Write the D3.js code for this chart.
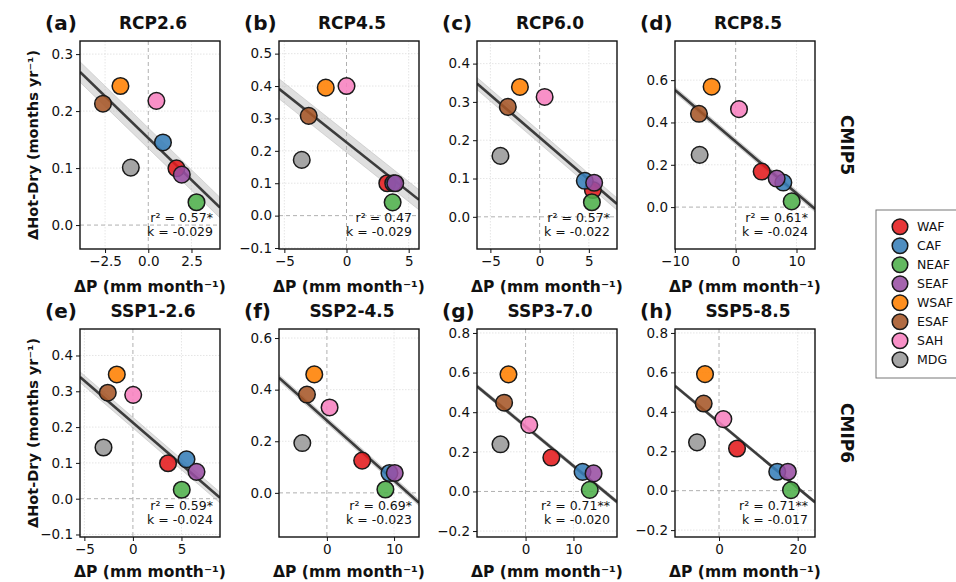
<!DOCTYPE html>
<html>
<head>
<meta charset="utf-8">
<script src="https://cdn.jsdelivr.net/npm/d3@7"></script>
<style>
body { margin: 0; background: #fff; }
svg text { font-family: "DejaVu Sans", sans-serif; fill: #111; }
</style>
</head>
<body>
<div id="chart"></div>
<script>
// regions and colours (legend order = draw order)
var regions = ["WAF", "CAF", "NEAF", "SEAF", "WSAF", "ESAF", "SAH", "MDG"];
var colors = ["#e41a1c", "#377eb8", "#4daf4a", "#984ea3", "#ff7f00", "#a65628", "#f781bf", "#999999"];

var panelTags = ["(a)", "(b)", "(c)", "(d)", "(e)", "(f)", "(g)", "(h)"];
var scenarios = ["RCP2.6", "RCP4.5", "RCP6.0", "RCP8.5", "SSP1-2.6", "SSP2-4.5", "SSP3-7.0", "SSP5-8.5"];
var rowNames = ["CMIP5", "CMIP6"];

// ΔP per region, one array per panel
var dP = [
    [1.63, 0.85, 2.79, 1.94, -1.61, -2.62, 0.47, -1.01],
    [3.28, 3.76, 3.71, 3.92, -1.67, -3.04, 0.0, -3.60],
    [5.41, 4.59, 5.31, 5.54, -2.0, -3.23, 0.51, -3.98],
    [4.27, 7.84, 9.21, 6.74, -3.95, -6.03, 0.55, -5.92],
    [3.62, 5.52, 5.03, 6.55, -1.66, -2.59, 0.03, -3.03],
    [5.25, 9.31, 8.71, 10.1, -1.88, -2.97, 0.40, -3.66],
    [5.38, 11.9, 13.4, 14.2, -3.57, -4.48, 0.77, -5.24],
    [4.58, 14.8, 18.3, 17.5, -3.56, -3.9, 1.10, -5.59]
];
// ΔHot-Dry per region, one array per panel
var dHD = [
    [0.0996, 0.145, 0.040, 0.0885, 0.244, 0.213, 0.218, 0.1008],
    [0.100, 0.100, 0.041, 0.100, 0.395, 0.308, 0.400, 0.172],
    [0.070, 0.094, 0.038, 0.089, 0.339, 0.287, 0.313, 0.159],
    [0.168, 0.116, 0.027, 0.135, 0.569, 0.441, 0.463, 0.247],
    [0.099, 0.110, 0.025, 0.075, 0.347, 0.296, 0.290, 0.143],
    [0.125, 0.077, 0.013, 0.077, 0.459, 0.381, 0.331, 0.193],
    [0.171, 0.099, 0.008, 0.091, 0.591, 0.448, 0.336, 0.238],
    [0.214, 0.096, 0.003, 0.096, 0.591, 0.442, 0.363, 0.245]
];

var r2Labels = ["0.57*", "0.47", "0.57*", "0.61*", "0.59*", "0.69*", "0.71**", "0.71**"];
var kLabels = ["-0.029", "-0.029", "-0.022", "-0.024", "-0.024", "-0.023", "-0.020", "-0.017"];
// half width of the grey uncertainty band (months/yr)
var bandHalf = [0.018, 0.031, 0.016, 0.014, 0.015, 0.012, 0.01, 0.008];

var xDomains = [[-3.95, 4.15], [-5.43, 5.83], [-6.36, 7.86], [-9.97, 13.04],
                [-5.45, 8.97], [-7.13, 13.71], [-10.14, 19.09], [-11.19, 24.4]];
var yDomains = [[-0.042, 0.323], [-0.103, 0.539], [-0.084, 0.459], [-0.198, 0.785],
                [-0.107, 0.474], [-0.171, 0.635], [-0.230, 0.820], [-0.235, 0.820]];
var xTicks = [[-2.5, 0, 2.5], [-5, 0, 5], [-5, 0, 5], [-10, 0, 10],
              [-5, 0, 5], [0, 10], [0, 10], [0, 20]];
var yTicks = [[0, 0.1, 0.2, 0.3], [-0.1, 0, 0.1, 0.2, 0.3, 0.4, 0.5], [0, 0.1, 0.2, 0.3, 0.4], [0, 0.2, 0.4, 0.6],
              [-0.1, 0, 0.1, 0.2, 0.3, 0.4], [0, 0.2, 0.4, 0.6], [-0.2, 0, 0.2, 0.4, 0.6, 0.8], [-0.2, 0, 0.2, 0.4, 0.6, 0.8]];
var xTickFormats = [".1f", "d", "d", "d", "d", "d", "d", "d"];

var width = 956;
var height = 582;
var colLeft = [80, 279, 477, 675];
var rowTop = [41, 329];
var axW = 140;
var axH = 208;
var pointR = 8.3;

var svg = d3.select("#chart")
    .append("svg")
    .attr("width", width)
    .attr("height", height);

var defs = svg.append("defs");

scenarios.forEach(function(name, i) {
    var col = i % 4;
    var row = Math.floor(i / 4);
    var left = colLeft[col];
    var top = rowTop[row];

    var x = d3.scaleLinear().domain(xDomains[i]).range([left, left + axW]);
    var y = d3.scaleLinear().domain(yDomains[i]).range([top + axH, top]);

    var g = svg.append("g");

    defs.append("clipPath")
        .attr("id", "clip" + i)
        .append("rect")
        .attr("x", left)
        .attr("y", top)
        .attr("width", axW)
        .attr("height", axH);

    var inner = g.append("g").attr("clip-path", "url(#clip" + i + ")");

    // light dotted grid
    inner.selectAll(".gx")
        .data(xTicks[i].filter(d => d !== 0))
        .enter().append("line")
        .attr("x1", d => x(d)).attr("x2", d => x(d))
        .attr("y1", top).attr("y2", top + axH)
        .attr("stroke", "#dedede")
        .attr("stroke-width", 0.8)
        .attr("stroke-dasharray", "1.5,1.5");
    inner.selectAll(".gy")
        .data(yTicks[i].filter(d => d !== 0))
        .enter().append("line")
        .attr("x1", left).attr("x2", left + axW)
        .attr("y1", d => y(d)).attr("y2", d => y(d))
        .attr("stroke", "#dedede")
        .attr("stroke-width", 0.8)
        .attr("stroke-dasharray", "1.5,1.5");

    // zero lines
    inner.append("line")
        .attr("x1", x(0)).attr("x2", x(0))
        .attr("y1", top).attr("y2", top + axH)
        .attr("stroke", "#b0b0b0")
        .attr("stroke-width", 1)
        .attr("stroke-dasharray", "4,3");
    inner.append("line")
        .attr("x1", left).attr("x2", left + axW)
        .attr("y1", y(0)).attr("y2", y(0))
        .attr("stroke", "#b0b0b0")
        .attr("stroke-width", 1)
        .attr("stroke-dasharray", "4,3");

    // least squares fit
    var xs = dP[i];
    var ys = dHD[i];
    var xm = d3.mean(xs);
    var ym = d3.mean(ys);
    var sxx = d3.sum(xs, v => (v - xm) * (v - xm));
    var sxy = d3.sum(xs, (v, j) => (v - xm) * (ys[j] - ym));
    var slope = sxy / sxx;
    var icpt = ym - slope * xm;

    var ends = xDomains[i].map(v => ({x: v, c: icpt + slope * v}));

    inner.append("path")
        .datum(ends)
        .attr("d", d3.area().x(d => x(d.x)).y0(d => y(d.c - bandHalf[i])).y1(d => y(d.c + bandHalf[i])))
        .attr("fill", "#b8b8b8")
        .attr("fill-opacity", 0.45)
        .attr("stroke", "#9a9a9a")
        .attr("stroke-opacity", 0.4)
        .attr("stroke-width", 0.8);

    inner.append("path")
        .datum(ends)
        .attr("d", d3.line().x(d => x(d.x)).y(d => y(d.c)))
        .attr("stroke", "#333")
        .attr("stroke-opacity", 0.95)
        .attr("stroke-width", 2.6)
        .attr("fill", "none");

    // region points
    g.selectAll(".pt")
        .data(regions)
        .enter().append("circle")
        .attr("cx", (d, j) => x(xs[j]))
        .attr("cy", (d, j) => y(ys[j]))
        .attr("r", pointR)
        .attr("fill", (d, j) => colors[j])
        .attr("fill-opacity", 0.88)
        .attr("stroke", "#1a1a1a")
        .attr("stroke-width", 1.5);

    // stats text
    g.append("text")
        .attr("x", left + axW - 7)
        .attr("y", top + axH - 27)
        .attr("text-anchor", "end")
        .style("font-size", "12.5px")
        .text("r\u00b2 = " + r2Labels[i]);
    g.append("text")
        .attr("x", left + axW - 7)
        .attr("y", top + axH - 13)
        .attr("text-anchor", "end")
        .style("font-size", "12.5px")
        .text("k = " + kLabels[i]);

    // axes
    var xAxis = g.append("g")
        .attr("transform", "translate(0," + (top + axH) + ")")
        .call(d3.axisBottom(x).tickValues(xTicks[i]).tickSize(4).tickPadding(3)
            .tickFormat(d3.format(xTickFormats[i])));
    var yAxis = g.append("g")
        .attr("transform", "translate(" + left + ",0)")
        .call(d3.axisLeft(y).tickValues(yTicks[i]).tickSize(4).tickPadding(3)
            .tickFormat(d3.format(".1f")));
    [xAxis, yAxis].forEach(function(a) {
        a.select(".domain").remove();
        a.selectAll("text").style("font-size", "13.5px").attr("fill", "#111");
        a.selectAll("line").attr("stroke", "#111");
    });

    // frame
    g.append("rect")
        .attr("x", left)
        .attr("y", top)
        .attr("width", axW)
        .attr("height", axH)
        .attr("fill", "none")
        .attr("stroke", "#111")
        .attr("stroke-width", 1.4);

    // titles
    g.append("text")
        .attr("x", left - 35)
        .attr("y", top - 11)
        .style("font-size", "20px")
        .style("font-weight", "bold")
        .text(panelTags[i]);
    g.append("text")
        .attr("x", left + axW / 2 + 3)
        .attr("y", top - 12)
        .attr("text-anchor", "middle")
        .style("font-size", "17px")
        .style("font-weight", "bold")
        .text(name);

    // bottom row label kept just inside the page
    g.append("text")
        .attr("x", left + axW / 2)
        .attr("y", Math.min(top + axH + 43, height - 5))
        .attr("text-anchor", "middle")
        .style("font-size", "15.5px")
        .style("font-weight", "bold")
        .text("\u0394P (mm month\u207b\u00b9)");

    if (col === 0) {
        g.append("text")
            .attr("transform", "translate(38," + (top + axH / 2) + ") rotate(-90)")
            .attr("text-anchor", "middle")
            .style("font-size", "14.5px")
            .style("font-weight", "bold")
            .text("\u0394Hot-Dry (months yr\u207b\u00b9)");
    }
});

// row labels
rowNames.forEach(function(r, k) {
    svg.append("text")
        .attr("transform", "translate(841," + (rowTop[k] + axH / 2) + ") rotate(90)")
        .attr("text-anchor", "middle")
        .style("font-size", "17px")
        .style("font-weight", "bold")
        .text(r);
});

// legend
var legend = svg.append("g");
legend.append("rect")
    .attr("x", 876)
    .attr("y", 210)
    .attr("width", 100)
    .attr("height", 168)
    .attr("fill", "#fff")
    .attr("stroke", "#777")
    .attr("stroke-width", 1);
legend.selectAll(".lc")
    .data(regions)
    .enter().append("circle")
    .attr("cx", 900)
    .attr("cy", (d, j) => 226.7 + j * 19)
    .attr("r", 7.8)
    .attr("fill", (d, j) => colors[j])
    .attr("fill-opacity", 0.88)
    .attr("stroke", "#1a1a1a")
    .attr("stroke-width", 1.5);
legend.selectAll(".lt")
    .data(regions)
    .enter().append("text")
    .attr("x", 917)
    .attr("y", (d, j) => 226.7 + j * 19)
    .attr("dy", "0.35em")
    .style("font-size", "12.5px")
    .text(d => d);
</script>
</body>
</html>
